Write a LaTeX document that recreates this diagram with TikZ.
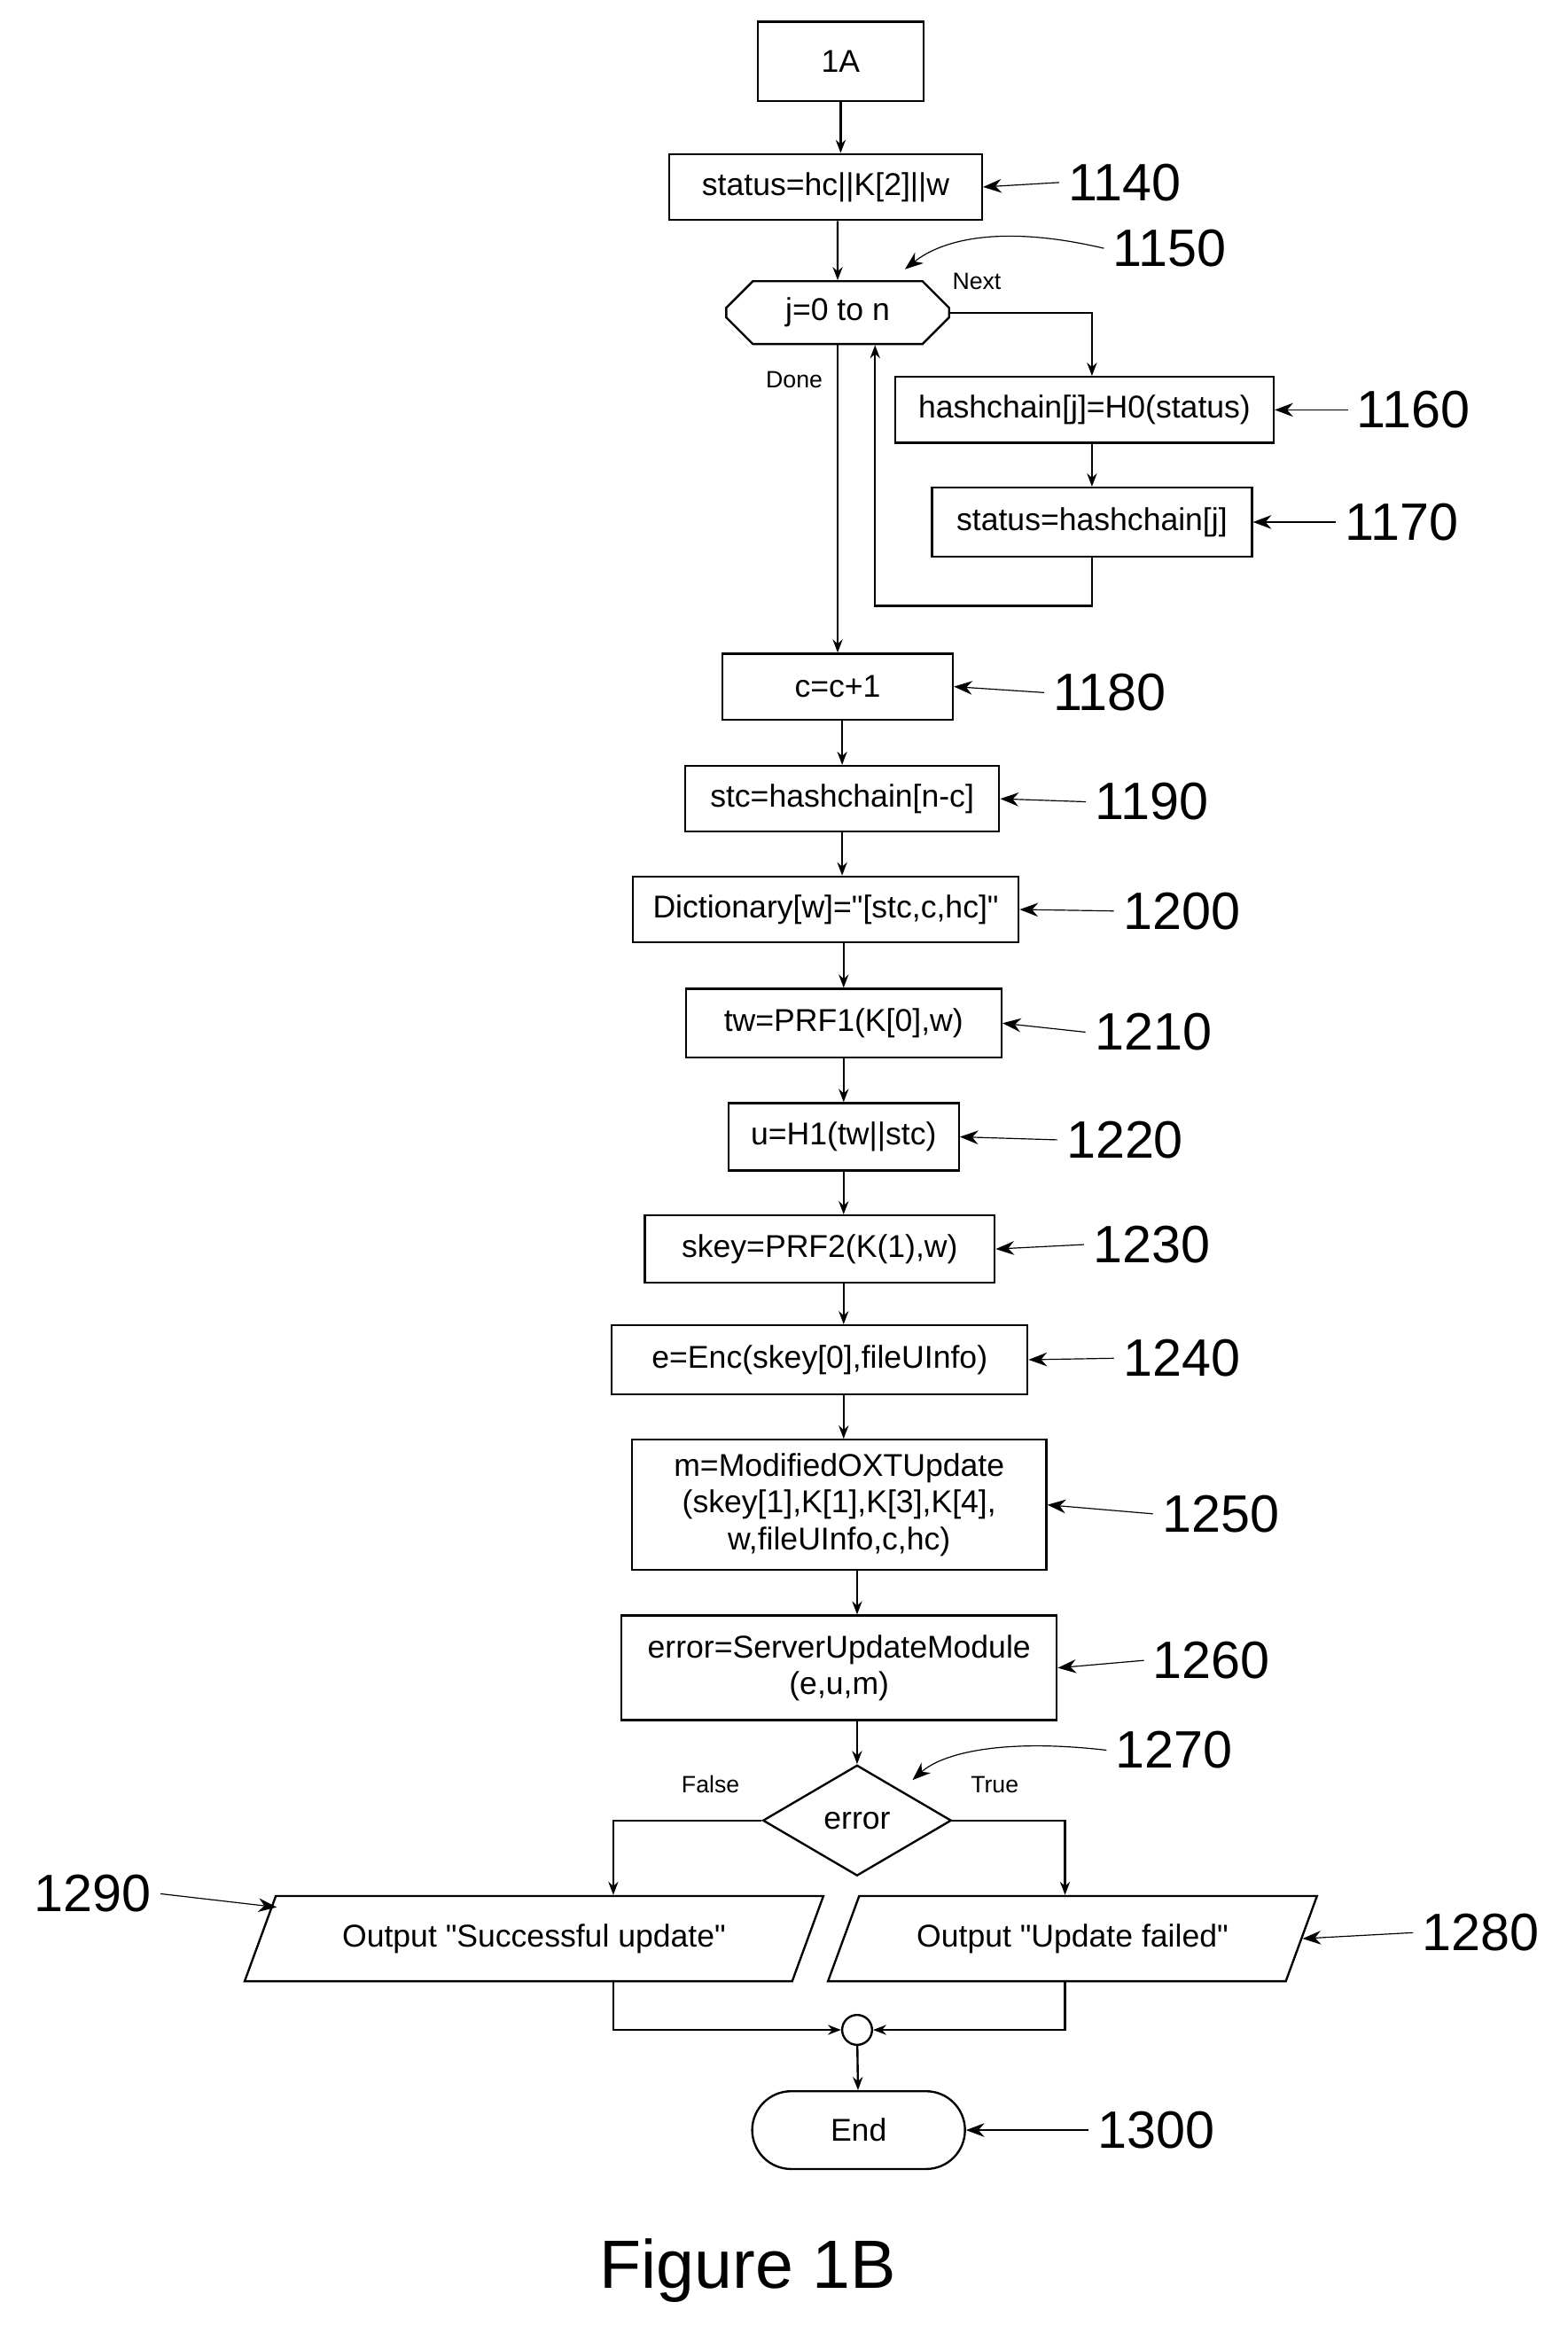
\documentclass[tikz,border=0pt]{standalone}
\usepackage{fontspec}
\setmainfont{Liberation Sans}
\newfontfamily\boxfont{Liberation Sans}
\usetikzlibrary{shapes.geometric,shapes.misc,arrows.meta}
\begin{document}
\begin{tikzpicture}[x=0.02cm,y=-0.02cm,
        box/.style={rectangle, draw, thick, font=\boxfont\fontsize{12}{14}\selectfont, inner sep=1pt, align=center},
        io/.style={trapezium, trapezium left angle=48, trapezium right angle=132, trapezium stretches body, draw, thick, font=\boxfont\fontsize{12}{14}\selectfont, inner sep=1pt},
        num/.style={font=\fontsize{20}{22}\selectfont\rmfamily},
        lbl/.style={font=\fontsize{9}{10}\selectfont},
        flow/.style={thick, -{Stealth[length=5pt]}},
        note/.style={-{Stealth[length=7pt]}},
        ]
        \useasboundingbox (0,0) rectangle (1048,1565);
        %Nodes
        \node[box, minimum width=2.22cm, minimum height=1.06cm] (start) at (562,41) {1A};
        \node[box, minimum width=4.18cm, minimum height=0.88cm] (init) at (552,125) {status=hc||K[2]||w};
        \node[chamfered rectangle, chamfered rectangle xsep=0.5cm, draw, thick, font=\fontsize{12}{14}\selectfont, minimum width=2.98cm, minimum height=0.84cm, inner sep=1pt] (loop) at (560,209) {j=0 to n};
        \node[box, minimum width=5.06cm, minimum height=0.88cm] (hash) at (725,274) {hashchain[j]=H0(status)};
        \node[box, minimum width=4.28cm, minimum height=0.92cm] (upd) at (730,349) {status=hashchain[j]};
        \node[box, minimum width=3.08cm, minimum height=0.88cm] (cnt) at (560,459) {c=c+1};
        \node[box, minimum width=4.2cm, minimum height=0.88cm] (stc) at (563,534) {stc=hashchain[n-c]};
        \node[box, minimum width=5.16cm, minimum height=0.88cm] (dict) at (552,608) {Dictionary[w]="[stc,c,hc]"};
        \node[box, minimum width=4.22cm, minimum height=0.92cm] (tw) at (564,684) {tw=PRF1(K[0],w)};
        \node[box, minimum width=3.08cm, minimum height=0.9cm] (u) at (564,760) {u=H1(tw||stc)};
        \node[box, minimum width=4.68cm, minimum height=0.9cm] (skey) at (548,835) {skey=PRF2(K(1),w)};
        \node[box, minimum width=5.56cm, minimum height=0.92cm] (enc) at (548,909) {e=Enc(skey[0],fileUInfo)};
        \node[box, minimum width=5.54cm, minimum height=1.74cm] (oxt) at (561,1006) {m=ModifiedOXTUpdate\\(skey[1],K[1],K[3],K[4],\\w,fileUInfo,c,hc)};
        \node[box, minimum width=5.82cm, minimum height=1.4cm] (srv) at (561,1115) {error=ServerUpdateModule\\(e,u,m)};
        \node[diamond, aspect=1.7, draw, thick, font=\fontsize{12}{14}\selectfont, minimum width=2.52cm, minimum height=1.48cm, inner sep=0pt] (err) at (573,1217) {error};
        \node[io, minimum width=7.74cm, minimum height=1.14cm] (ok) at (357,1296) {Output "Successful update"};
        \node[io, minimum width=6.54cm, minimum height=1.14cm] (fail) at (717,1296) {Output "Update failed"};
        \node[circle, draw, thick, minimum size=0.4cm, inner sep=0pt] (join) at (573,1357) {};
        \node[rounded rectangle, draw, thick, font=\fontsize{12}{14}\selectfont, minimum width=3.08cm, minimum height=1.04cm] (stop) at (574,1424) {End};
        \node[num, font=\fontsize{26}{28}\selectfont\rmfamily] (fig) at (500,1518) {Figure 1B};
        %Numbers
        \node[num] (n1140) at (752,122) {1140};
        \node[num] (n1150) at (782,166) {1150};
        \node[num] (n1160) at (945,274) {1160};
        \node[num] (n1170) at (937,349) {1170};
        \node[num] (n1180) at (742,463) {1180};
        \node[num] (n1190) at (770,536) {1190};
        \node[num] (n1200) at (790,609) {1200};
        \node[num] (n1210) at (771,690) {1210};
        \node[num] (n1220) at (752,762) {1220};
        \node[num] (n1230) at (770,832) {1230};
        \node[num] (n1240) at (790,908) {1240};
        \node[num] (n1250) at (816,1012) {1250};
        \node[num] (n1260) at (810,1110) {1260};
        \node[num] (n1270) at (785,1170) {1270};
        \node[num] (n1280) at (990,1292) {1280};
        \node[num] (n1290) at (62,1266) {1290};
        \node[num] (n1300) at (773,1424) {1300};
        %Labels
        \node[lbl] (next) at (653,188) {Next};
        \node[lbl] (done) at (531,254) {Done};
        \node[lbl] (false) at (475,1193) {False};
        \node[lbl] (true) at (665,1193) {True};
        \coordinate (back) at (585,405);
        \coordinate (okin) at (410,1217);
        \coordinate (failin) at (712,1217);
        %Lines
        \draw[flow] (start) -- (start |- init.north);
        \draw[flow] (init.south -| loop) -- (loop);
        \draw[flow] (loop.east) -| (hash.north -| upd);
        \draw[flow] (hash.south -| upd) -- (upd);
        \draw[flow] (upd.south) |- (back) -- (back |- loop.south);
        \draw[flow] (loop.south) -- (cnt.north -| loop.south);
        \draw[flow] (cnt.south -| stc) -- (stc);
        \draw[flow] (stc.south) -- (dict.north -| stc.south);
        \draw[flow] (dict.south -| tw) -- (tw);
        \draw[flow] (tw) -- (u);
        \draw[flow] (u.south) -- (skey.north -| u.south);
        \draw[flow] (skey.south -| u.south) -- (enc.north -| u.south);
        \draw[flow] (enc.south -| u.south) -- (oxt.north -| u.south);
        \draw[flow] (oxt.south -| err) -- (srv.north -| err);
        \draw[flow] (srv.south -| err) -- (err);
        \draw[flow] (err.west) -- (okin) -- (okin |- ok.north);
        \draw[flow] (err.east) -- (failin) -- (failin |- fail.north);
        \draw[flow] (okin |- ok.south) |- (join.west);
        \draw[flow] (failin |- fail.south) |- (join.east);
        \draw[flow] (join) -- (stop);
        %Pointers
        \draw[note] (n1140.west) -- (init.east);
        \draw[note] (n1150.west) .. controls (670,150) and (630,160) .. (605,180);
        \draw[note] (n1160.west) -- (hash.east);
        \draw[note] (n1170.west) -- (upd.east);
        \draw[note] (n1180.west) -- (cnt.east);
        \draw[note] (n1190.west) -- (stc.east);
        \draw[note] (n1200.west) -- (dict.east);
        \draw[note] (n1210.west) -- (tw.east);
        \draw[note] (n1220.west) -- (u.east);
        \draw[note] (n1230.west) -- (skey.east);
        \draw[note] (n1240.west) -- (enc.east);
        \draw[note] (n1250.west) -- (oxt.east);
        \draw[note] (n1260.west) -- (srv.east);
        \draw[note] (n1270.west) .. controls (670,1162) and (630,1172) .. (610,1190);
        \draw[note] (n1280.west) -- (fail.east);
        \draw[note] (n1290.east) -- (185,1275);
        \draw[note] (n1300.west) -- (stop.east);
\end{tikzpicture}
\end{document}
